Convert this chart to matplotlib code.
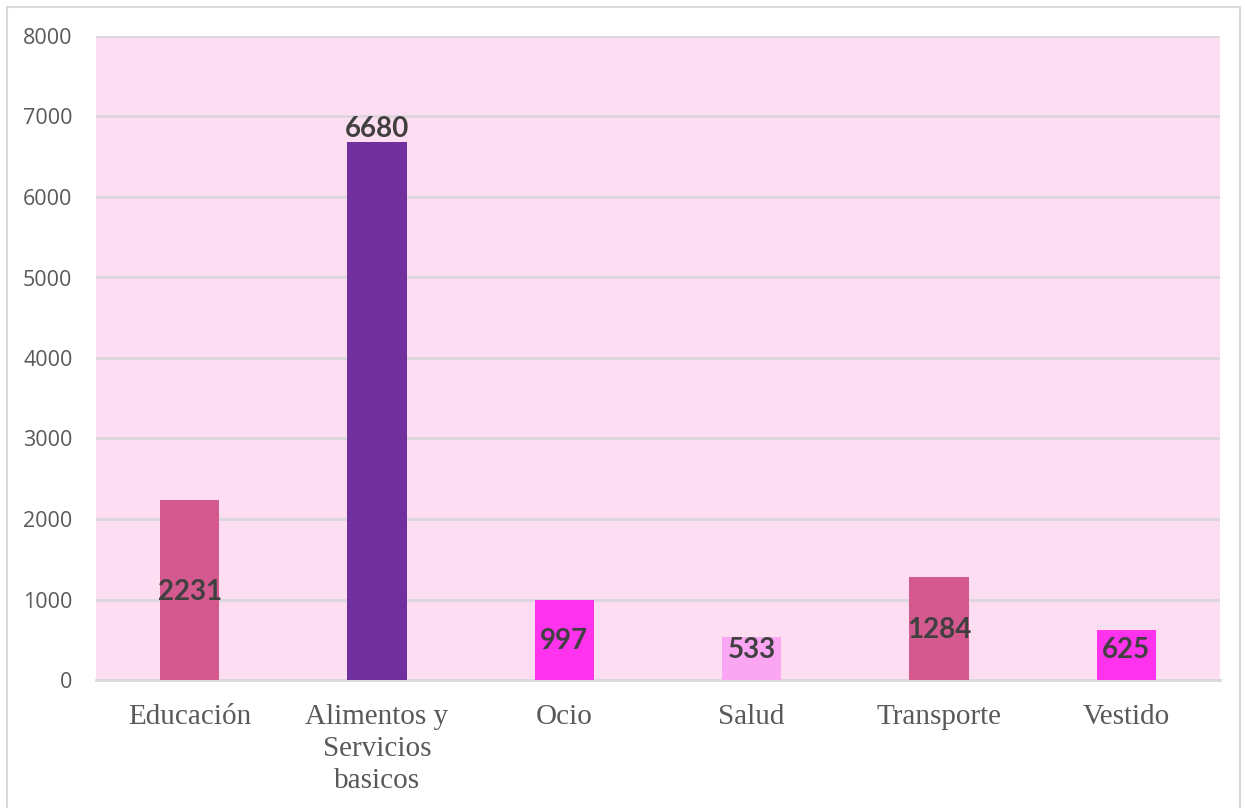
import matplotlib.pyplot as plt
from matplotlib.patches import Rectangle

categorias = ["Educación", "Alimentos y\nServicios\nbasicos", "Ocio", "Salud", "Transporte", "Vestido"]
valores = [2231, 6680, 997, 533, 1284, 625]
colores = ["#D4598E", "#70309E", "#FF33EE", "#FBA6F3", "#D4598E", "#FF33EE"]
# posicion vertical de cada etiqueta de dato (como en el original)
pos_etiquetas = [1093, 6845, 484, 373, 621, 373]

fig = plt.figure(figsize=(12.45, 8.08), dpi=100)
fig.patches.append(Rectangle((7/1245, -0.01), 1233/1245, 1 - 7/808 + 0.01,
                             transform=fig.transFigure, fill=False,
                             edgecolor="#D9D9D9", linewidth=1.5))
ax = fig.add_axes([96/1245, 128/808, 1124/1245, 644/808])
ax.set_facecolor("#FCDDF2")

x = range(len(valores))
ax.bar(x, valores, width=0.315, color=colores, zorder=3)

for i, (v, y) in enumerate(zip(valores, pos_etiquetas)):
    ax.text(i, y, str(v), ha="center", va="center", fontsize=20, fontweight="bold",
            color="#404040", family=["Lato", "DejaVu Sans"], zorder=4)

ax.set_xlim(-0.5, 5.5)
ax.set_ylim(0, 8000)
ax.set_yticks(range(0, 8001, 1000))
ax.grid(axis="y", color="#DCD6DC", linewidth=2, zorder=1)
ax.set_axisbelow(True)
for s in ["left", "right", "top"]:
    ax.spines[s].set_visible(False)
ax.spines["bottom"].set_color("#D9D9D9")
ax.spines["bottom"].set_linewidth(2)

ax.set_xticks(list(x))
ax.set_xticklabels(categorias, family="Liberation Serif", fontsize=21,
                   color="#595959", linespacing=1.3)
ax.tick_params(axis="x", length=0, pad=17)
ax.tick_params(axis="y", length=0, pad=17, labelsize=15.5, labelcolor="#595959")
for t in ax.get_yticklabels():
    t.set_family("Open Sans")

fig.savefig("out.png", dpi=100)
